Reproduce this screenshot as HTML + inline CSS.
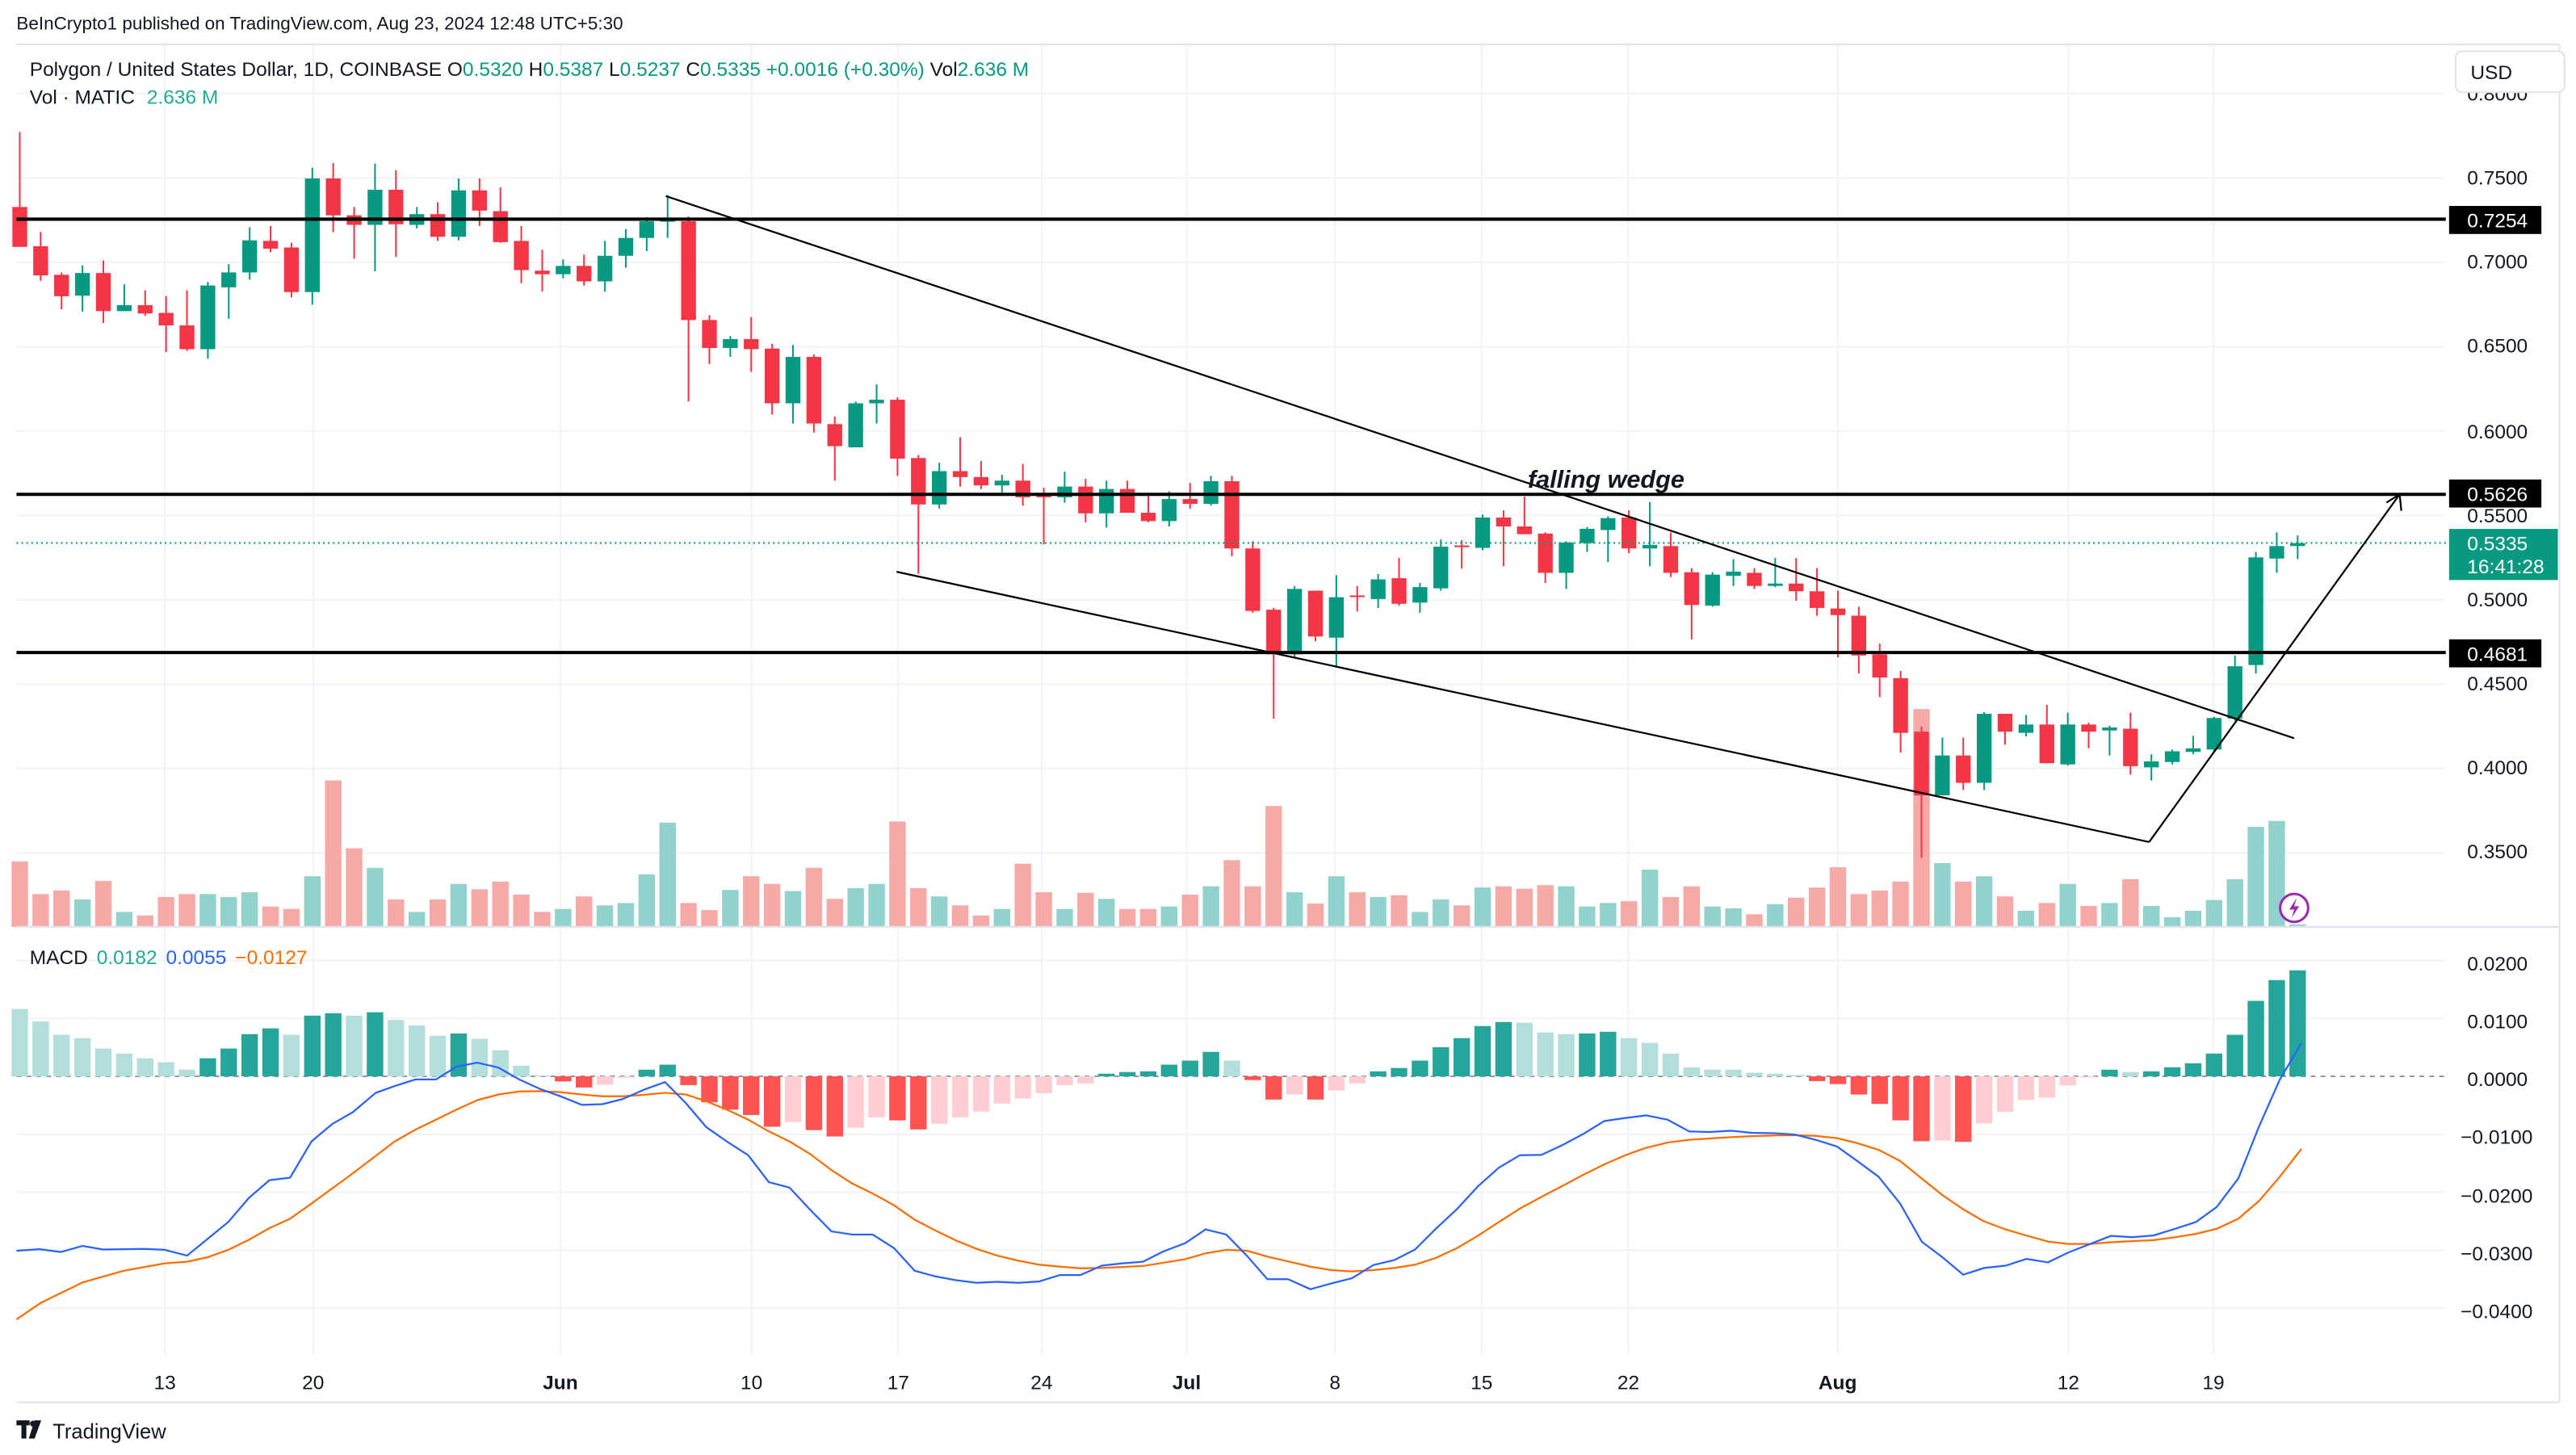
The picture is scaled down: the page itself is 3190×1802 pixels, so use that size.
<!DOCTYPE html>
<html><head><meta charset="utf-8">
<style>
html,body{margin:0;padding:0;background:#fff;}
svg{display:block;}
text{font-family:"Liberation Sans",sans-serif;}
</style></head>
<body>
<svg id="c" width="3190" height="1802" viewBox="0 0 1563 883" preserveAspectRatio="none" xmlns="http://www.w3.org/2000/svg">
<rect x="0" y="0" width="1563" height="883" fill="#fff"/>
<g id="grid"></g>
<g id="vol"></g>
<g id="hist"></g>
<g id="lines"></g>
<g id="candles"></g>
<text x="10" y="18" font-size="11" fill="#131722">BeInCrypto1 published on TradingView.com, Aug 23, 2024 12:48 UTC+5:30</text>
<line x1="10" y1="27" x2="1553" y2="27" stroke="#e0e3eb" stroke-width="1"/>
<line x1="1553" y1="27" x2="1553" y2="851" stroke="#e0e3eb" stroke-width="1"/>
<line x1="10" y1="562.5" x2="1553" y2="562.5" stroke="#e0e3eb" stroke-width="1.2"/>
<line x1="10" y1="851" x2="1553" y2="851" stroke="#e0e3eb" stroke-width="1"/>
<text x="18" y="46" font-size="12" fill="#131722">Polygon / United States Dollar, 1D, COINBASE <tspan fill="#131722">O</tspan><tspan fill="#089981">0.5320</tspan> <tspan fill="#131722">H</tspan><tspan fill="#089981">0.5387</tspan> <tspan fill="#131722">L</tspan><tspan fill="#089981">0.5237</tspan> <tspan fill="#131722">C</tspan><tspan fill="#089981">0.5335</tspan> <tspan fill="#089981">+0.0016 (+0.30%)</tspan> <tspan fill="#131722">Vol</tspan><tspan fill="#089981">2.636 M</tspan></text>
<text x="18" y="63" font-size="12" fill="#131722">Vol · MATIC <tspan fill="#22ab94" dx="4">2.636 M</tspan></text>
<text x="18" y="585" font-size="12" fill="#131722">MACD <tspan fill="#22ab94" dx="2">0.0182</tspan> <tspan fill="#2962ff" dx="2">0.0055</tspan> <tspan fill="#ff6d00" dx="2">−0.0127</tspan></text>
<text x="1497" y="61" font-size="12" fill="#131722">0.8000</text>
<rect x="1490" y="31" width="66" height="25" rx="4" fill="#fff" stroke="#e0e3eb"/>
<text x="1499" y="48" font-size="12" fill="#131722">USD</text>
<g font-size="12" fill="#131722">
<text x="1497" y="112">0.7500</text>
<text x="1497" y="163">0.7000</text>
<text x="1497" y="214">0.6500</text>
<text x="1497" y="266">0.6000</text>
<text x="1497" y="317">0.5500</text>
<text x="1497" y="368">0.5000</text>
<text x="1497" y="419">0.4500</text>
<text x="1497" y="470">0.4000</text>
<text x="1497" y="521">0.3500</text>
<text x="1497" y="589">0.0200</text>
<text x="1497" y="624">0.0100</text>
<text x="1497" y="659">0.0000</text>
<text x="1493" y="694">−0.0100</text>
<text x="1493" y="730">−0.0200</text>
<text x="1493" y="765">−0.0300</text>
<text x="1493" y="800">−0.0400</text>
</g>
<g stroke="#000" stroke-width="2">
<line x1="10" y1="133" x2="1484" y2="133"/>
<line x1="10" y1="300" x2="1484" y2="300"/>
<line x1="10" y1="396" x2="1484" y2="396"/>
</g>
<rect x="1486" y="125" width="56" height="17" fill="#000"/><text x="1497" y="138" font-size="12" fill="#fff">0.7254</text>
<rect x="1486" y="291" width="56" height="17" fill="#000"/><text x="1497" y="304" font-size="12" fill="#fff">0.5626</text>
<rect x="1486" y="388" width="56" height="17" fill="#000"/><text x="1497" y="401" font-size="12" fill="#fff">0.4681</text>
<line x1="10" y1="329.5" x2="1484" y2="329.5" stroke="#089981" stroke-width="1" stroke-dasharray="1,2"/>
<rect x="1486" y="321" width="66" height="31" fill="#089981"/>
<text x="1497" y="334" font-size="12" fill="#fff">0.5335</text>
<text x="1497" y="348" font-size="12" fill="#fff">16:41:28</text>
<g stroke="#000" stroke-width="1.1" fill="none">
<line x1="404" y1="119" x2="1392" y2="448"/>
<line x1="544" y1="347" x2="1304" y2="511"/>
<polyline points="1304,511 1456,300"/>
<polyline points="1448,305 1456,300 1457,310"/>
</g>
<text x="927" y="296" font-size="15" font-style="italic" font-weight="bold" fill="#131722">falling wedge</text>
<circle cx="1392" cy="551" r="8.5" fill="#fff" stroke="#9c27b0" stroke-width="1.5"/>
<path d="M1393.5,545 L1389,552 L1392,552 L1390.5,557 L1395,550 L1392,550 Z" fill="#9c27b0"/>
<g font-size="12" fill="#131722" text-anchor="middle">
<text x="100" y="843">13</text><text x="190" y="843">20</text><text x="340" y="843" font-weight="bold">Jun</text>
<text x="456" y="843">10</text><text x="545" y="843">17</text><text x="632" y="843">24</text>
<text x="720" y="843" font-weight="bold">Jul</text><text x="810" y="843">8</text><text x="899" y="843">15</text>
<text x="988" y="843">22</text><text x="1115" y="843" font-weight="bold">Aug</text><text x="1255" y="843">12</text><text x="1343" y="843">19</text>
</g>
<g fill="#131722"><rect x="10" y="862" width="8" height="3"/><rect x="13" y="862" width="3" height="11"/><circle cx="20" cy="864" r="1.8"/><path d="M21,862 L25,862 L21,873 L17.5,873 Z"/></g>
<text x="32" y="873" font-size="12.5" fill="#131722">TradingView</text>
</svg>
<script>
(function(){
var NS="http://www.w3.org/2000/svg";
function el(p,t,a){var e=document.createElementNS(NS,t);for(var k in a)e.setAttribute(k,a[k]);document.getElementById(p).appendChild(e);return e;}
var vx=[100,190,340,456,545,632,720,810,899,988,1115,1255,1343];
vx.forEach(function(x){el('grid','line',{x1:x,y1:27,x2:x,y2:822,stroke:'#f0f3fa','stroke-width':1});});
for(var p=0.80;p>0.34;p-=0.05){var y=108+(0.75-p)*1024;if(y>28&&y<562)el('grid','line',{x1:10,y1:y,x2:1483,y2:y,stroke:'#f0f3fa','stroke-width':1});}
[0.02,0.01,-0.01,-0.02,-0.03,-0.04].forEach(function(v){var y=653.2-v*3518;el('grid','line',{x1:10,y1:y,x2:1483,y2:y,stroke:'#f0f3fa','stroke-width':1});});
el('grid','line',{x1:10,y1:653.2,x2:1483,y2:653.2,stroke:'#9598a1','stroke-width':1,'stroke-dasharray':'3,3'});
var C=[[348,415,222,415,'R'],[414,463,390,472,'R'],[462,498,458,520,'R'],[459,497,446,524,'G'],[459,523,438,543,'R'],[513,523,478,523,'G'],[513,527,488,531,'R'],[526,547,498,592,'R'],[547,587,488,590,'R'],[480,587,474,603,'G'],
[458,483,444,536,'G'],[404,458,382,470,'G'],[405,418,380,424,'R'],[416,491,408,500,'R'],[300,491,282,512,'G'],[300,362,274,390,'R'],[362,378,348,435,'R'],[319,378,275,456,'G'],[319,377,286,432,'R'],[360,378,348,384,'G'],
[360,398,340,405,'R'],[320,398,300,404,'G'],[320,354,300,380,'R'],[355,407,315,408,'R'],[405,454,380,476,'R'],[455,461,420,490,'R'],[447,461,436,468,'G'],[447,473,428,480,'R'],[430,473,405,490,'G'],[400,430,385,450,'G'],
[372,400,365,422,'G'],[370,372,328,400,'G'],[372,538,364,675,'R'],[538,585,530,612,'R'],[570,585,565,600,'G'],[570,587,533,625,'R'],[586,678,578,697,'R'],[600,678,580,712,'G'],[600,712,596,727,'R'],[713,750,700,808,'R'],
[678,752,675,752,'G'],[672,678,646,712,'G'],[672,771,668,800,'R'],[770,848,765,965,'R'],[792,848,778,855,'G'],[792,802,735,818,'R'],[802,816,775,822,'R'],[808,816,798,830,'G'],[808,836,780,850,'R'],[832,836,820,915,'R'],
[818,836,793,845,'G'],[818,863,805,878,'R'],[822,863,808,887,'G'],[822,862,808,862,'R'],[862,876,832,878,'R'],[839,876,826,885,'G'],[839,847,812,855,'R'],[809,847,800,850,'G'],[809,922,800,935,'R'],[922,1027,910,1030,'R'],
[1025,1100,1022,1208,'R'],[990,1100,985,1105,'G'],[993,1070,993,1078,'R'],[1004,1072,967,1120,'G'],[1001,1003,985,1028,'R'],[974,1007,965,1022,'G'],[972,1015,938,1018,'R'],[987,1013,980,1030,'G'],[919,989,907,993,'G'],[917,918,908,956,'R'],
[870,921,865,925,'G'],[870,885,858,952,'R'],[885,898,835,898,'R'],[897,963,895,980,'R'],[912,963,910,990,'G'],[889,913,886,928,'G'],[871,891,868,945,'G'],[870,922,858,930,'R'],[916,922,844,952,'G'],[918,963,895,970,'R'],
[962,1017,955,1075,'R'],[966,1018,962,1020,'G'],[961,968,940,985,'G'],[963,985,955,990,'R'],[981,985,938,987,'G'],[981,994,938,1010,'R'],[994,1022,955,1035,'R'],[1023,1034,993,1105,'R'],[1035,1102,1020,1132,'R'],[1100,1139,1082,1172,'R'],
[1140,1232,1128,1265,'R'],[1230,1337,1222,1442,'R'],[1270,1337,1240,1337,'G'],[1270,1316,1240,1328,'R'],[1200,1316,1197,1328,'G'],[1200,1230,1200,1252,'R'],[1218,1232,1202,1238,'G'],[1218,1283,1185,1283,'R'],[1218,1285,1198,1287,'G'],[1218,1230,1215,1258,'R'],
[1223,1228,1220,1270,'G'],[1225,1288,1198,1302,'R'],[1280,1290,1268,1312,'G'],[1263,1281,1260,1285,'G'],[1258,1264,1237,1268,'G'],[1207,1260,1205,1265,'G'],[1120,1208,1102,1212,'G'],[937,1118,928,1132,'G'],[918,939,895,963,'G'],[913,918,900,940,'G']];
var V=[1448,1503,1497,1512,1481,1533,1539,1508,1503,1503,1508,1500,1524,1528,1473,1312,1426,1459,1512,1533,1512,1486,1495,1482,1504,1533,1528,1507,1522,1518,1470,1383,1518,1530,1496,1473,1486,1498,1459,1511,1493,1486,1381,1493,1507,1522,1539,1528,1452,1500,1528,1501,1511,1528,1528,1524,1504,1490,1446,1490,1355,
1500,1519,1473,1500,1508,1505,1533,1512,1522,1492,1490,1494,1488,1490,1524,1518,1515,1462,1508,1490,1524,1527,1537,1520,1509,1492,1458,1503,1497,1482,1192,1451,1482,1473,1507,1531,1518,1486,1523,1518,1478,1523,1542,1531,1513,1478,1390,1380,1560];
var k=0.361;
C.forEach(function(c,i){
 var x=12+i*12.68, col=c[4]=='G'?'#089981':'#f23645', vcol=c[4]=='G'?'#92d2cc':'#f7a9a7';
 var vt=V[i]*k; if(vt>561)vt=561;
 el('vol','rect',{x:x-5,y:vt,width:10,height:562.5-vt,fill:vcol});
 el('candles','line',{x1:x,y1:c[2]*k,x2:x,y2:c[3]*k,stroke:col,'stroke-width':1});
 var t=c[0]*k,b=c[1]*k; if(b-t<1){b=t+1;}
 el('candles','rect',{x:x-4.5,y:t,width:9,height:b-t,fill:col});
});
var H=[240,277,317,327,358,373,387,399,421,387,358,315,298,317,260,253,260,250,273,289,320,313,329,363,409,438,456,474,466,445,421,406,467,518,540,556,591,577,601,620,594,563,572,599,582,563,546,522,507,491,467,462,433,428,426,406,394,368,394,452,510,495,
510,483,462,426,416,394,354,327,291,279,281,310,315,313,308,327,341,373,414,421,421,430,433,437,455,464,495,523,572,634,632,636,581,547,511,504,468,444,421,428,426,414,402,373,317,216,154,125];
var HC='LLLLLLLLLDDDDLDDLDLLLDLLLLRRPPDDRRRRRPRRPPRRPPPPPPPPDDDDDDLRRP'+'RPPDDDDDDDLLLDDLLLLLLLLLRRRRRRPRPPPPPPDLDDDDDDDD';
var HCOL={D:'#26a69a',L:'#b2dfdb',R:'#ff5252',P:'#ffcdd2'};
H.forEach(function(h,i){
 var x=12+i*12.68, y=563.4+h*0.2037, z=653.2;
 var t=Math.min(y,z),b=Math.max(y,z); if(b-t<0.6)b=t+0.6;
 el('hist','rect',{x:x-5,y:t,width:10,height:b-t,fill:HCOL[HC[i]]||'#b2dfdb'});
});
function conv(a3,a4){var pts=[];a3.forEach(function(p){pts.push((p[0]*0.5).toFixed(1)+','+(563.4+p[1]*0.2037).toFixed(1));});a4.forEach(function(p){pts.push((784+p[0]*0.504).toFixed(1)+','+(563.4+p[1]*0.2037).toFixed(1));});return pts.join(' ');}
var B3=[[20,960],[48,956],[74,964],[100,946],[125,957],[175,955],[200,958],[227,975],[252,925],[277,875],[302,803],[327,750],[352,743],[378,635],[403,583],[428,548],[456,490],[479,470],[504,450],[529,450],[554,412],[579,400],[605,415],[630,450],[655,478],[680,500],[706,526],[731,524],[756,508],[782,480],[807,458],[832,520],[857,592],[882,635],[908,676],[933,756],[958,772],[983,838],[1009,903],[1034,912],[1059,912],[1085,953],[1110,1020],[1135,1037],[1160,1048],[1185,1056],[1210,1053],[1236,1056],[1261,1052],[1286,1033],[1311,1033],[1337,1005],[1362,998],[1387,993],[1412,962],[1438,938],[1463,897],[1488,912],[1513,975],[1538,1045],[1563,1045]];
var B4=[[22,1075],[47,1058],[72,1042],[98,1003],[123,988],[148,957],[173,895],[199,835],[224,768],[249,713],[274,676],[300,675],[325,646],[350,613],[376,574],[401,565],[426,557],[452,570],[478,605],[503,607],[528,603],[554,609],[580,610],[605,614],[630,630],[656,650],[681,694],[706,740],[732,820],[758,933],[783,980],[808,1032],[833,1012],[859,1005],[884,985],[910,995],[935,965],[961,940],[986,916],[1012,920],[1037,915],[1063,895],[1088,875],[1113,830],[1139,745],[1164,590],[1189,450],[1215,342]];
var O3=[[20,1165],[50,1115],[100,1055],[150,1020],[200,998],[227,993],[252,980],[277,958],[302,928],[327,893],[352,865],[378,820],[428,730],[479,635],[504,600],[554,540],[579,512],[605,495],[630,486],[655,485],[680,488],[706,495],[731,500],[756,500],[782,496],[807,490],[832,495],[857,515],[882,540],[908,570],[933,605],[958,635],[983,672],[1009,720],[1034,760],[1059,790],[1085,825],[1110,868],[1135,900],[1160,930],[1185,955],[1210,975],[1236,990],[1261,1002],[1286,1008],[1311,1013],[1337,1012],[1387,1006],[1438,986],[1463,968],[1488,958],[1513,960],[1538,978],[1563,992]];
var O4=[[22,1008],[47,1018],[72,1022],[98,1018],[123,1012],[148,1002],[173,982],[199,952],[224,915],[249,875],[274,835],[300,800],[325,768],[350,735],[376,703],[401,676],[426,654],[452,638],[478,630],[503,626],[528,622],[554,619],[580,617],[605,616],[630,618],[656,625],[681,640],[706,660],[732,693],[758,745],[783,795],[808,837],[833,873],[859,897],[884,915],[910,933],[935,940],[961,940],[986,935],[1012,932],[1037,929],[1063,920],[1088,910],[1113,895],[1139,865],[1164,812],[1189,740],[1215,657]];
el('lines','polyline',{points:conv(O3,O4),fill:'none',stroke:'#ff6d00','stroke-width':1.1,'stroke-linejoin':'round'});
el('lines','polyline',{points:conv(B3,B4),fill:'none',stroke:'#2962ff','stroke-width':1.1,'stroke-linejoin':'round'});
})();
</script>
</body></html>
